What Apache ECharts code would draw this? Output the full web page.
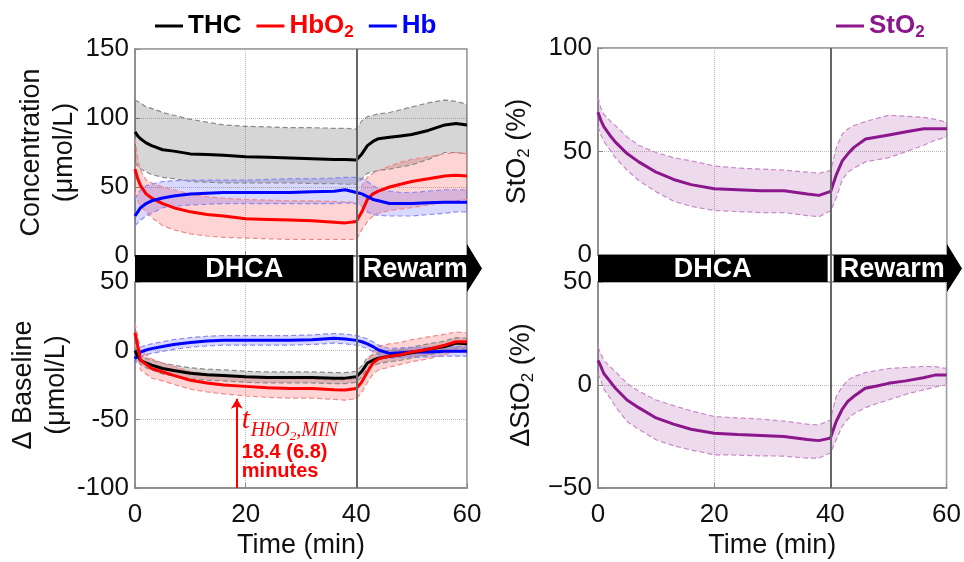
<!DOCTYPE html>
<html><head><meta charset="utf-8">
<script src="https://cdn.jsdelivr.net/npm/echarts@6/dist/echarts.min.js"></script>
<style>html,body{margin:0;padding:0;background:#fff}#c{width:964px;height:562px}</style>
</head><body><div id="c"></div>
<script>
// ---------- data ----------
const time = [0, 0.5, 1, 2, 3, 5, 7, 10, 13, 16, 20, 24, 28, 32, 36, 38, 40, 41, 42, 43, 44, 46, 48, 50, 53, 56, 58, 60];

const thcMean  = [90, 87, 85, 82, 80, 77, 76, 74, 73.5, 73, 72, 71.5, 71, 70.5, 70, 70, 69.5, 74, 80, 83, 85, 86, 87, 88, 91, 95, 96, 95];
const thcUpper = [113, 112, 111, 108, 107, 104, 102, 99, 97, 95, 94, 93.5, 93, 93, 92.5, 92.5, 92, 98, 101, 102, 103, 104, 106, 108, 111, 113, 112, 110];
const thcLower = [68, 65, 63, 61, 59, 57, 56, 54, 53.5, 53, 53, 53, 53, 52.5, 52.5, 52, 52, 56, 60, 61, 62, 63, 64.5, 66, 70, 75, 75, 74];
const hbo2Mean  = [63, 56, 51, 45, 42, 38, 35, 32, 30, 29, 27, 26.5, 26, 25.5, 24.5, 24, 25, 32, 41, 45, 47, 50, 52, 54, 56, 58, 58.5, 58];
const hbo2Upper = [85, 70, 62, 55, 53, 50, 48, 45, 43, 42, 41, 40.5, 40, 40, 39.5, 39, 39, 51, 57, 60, 62, 65, 68, 70, 72, 74, 75, 74];
const hbo2Lower = [46, 40, 36, 32, 28, 22, 19, 16, 14.5, 13.5, 13, 12.5, 12, 12, 12, 12, 12, 19, 25, 29, 31, 33, 34, 35, 37, 39, 40, 41];
const hbMean  = [29, 32, 35, 38, 40, 42, 43.5, 45, 45.5, 46, 46, 46, 46, 46.5, 47, 48, 46, 45, 43, 41, 40, 38, 38, 38, 38.5, 39, 39, 39];
const hbUpper = [41, 45, 48, 51, 52, 54, 54.5, 55, 55, 55, 55, 55.5, 56, 56, 56.5, 57, 57, 56, 54, 51, 49, 47, 46, 46, 47, 48, 48, 48];
const hbLower = [22, 24, 26, 29, 31, 35, 36, 37, 37.5, 38, 38, 38, 38, 38, 38, 38.5, 38, 36, 32, 30, 29.5, 29, 29, 29, 30, 31, 32, 32];

const dThcMean  = [0, -4, -7, -9, -10.5, -13, -14.5, -16.5, -17.5, -18, -19, -19.5, -19.5, -19.5, -20, -20, -19, -15, -9, -7, -5.5, -4, -3, -1.5, 1, 3, 5.5, 5];
const dThcUpper = [3, -1, -4, -5.5, -7, -9, -10.5, -12.5, -13.5, -14, -15, -15.5, -15.5, -15.5, -16, -16, -15, -11, -5, -3, -1.5, 0, 1, 2.5, 5, 7, 9.5, 9];
const dThcLower = [-3, -7, -10, -12.5, -14, -17, -18.5, -20.5, -21.5, -22, -23, -23.5, -23.5, -23.5, -24, -24, -23, -19, -13, -11, -9.5, -8, -7, -5.5, -3, -1, 1.5, 1];
const dHbo2Mean  = [13, 3, -7, -10, -13, -15.5, -18, -21.5, -23.5, -25, -26, -27, -27.5, -27.5, -28.5, -28.7, -27.5, -22.7, -15.5, -9, -6, -4, -3, -1, 1, 4, 6.5, 6.5];
const dHbo2Upper = [20, 10, 0, -3, -6, -9, -11.5, -15, -17, -18, -19, -20, -20.5, -20.5, -21.5, -21.5, -20.5, -15, -8, -1, 3, 5, 6, 8, 10, 12, 13.5, 13];
const dHbo2Lower = [5, -4, -14, -17, -20, -22, -24.5, -28, -30, -31.5, -33, -34, -34.5, -34.5, -35.5, -36, -35, -30, -23, -17, -14, -12, -10, -8, -6, -3, 0, 0];
const dHbMean  = [-6, -3, -1, 0.5, 1.5, 3, 4.5, 6, 7, 7.5, 7.5, 7.5, 7.5, 8, 9, 8.5, 7.5, 6.5, 5, 3, 0.5, -2, -1.5, -1, -1, -0.5, -0.5, -0.5];
const dHbUpper = [-2, 0.5, 2.5, 4, 5, 6.5, 8, 9.5, 10.5, 11, 11, 11, 11, 11.5, 12.5, 12, 11, 10, 8.5, 6.5, 4, 1.5, 2, 2.5, 2.5, 3, 3, 3];
const dHbLower = [-10, -6.5, -4.5, -3, -2, -0.5, 1, 2.5, 3.5, 4, 4, 4, 4, 4.5, 5.5, 5, 4, 3, 1.5, -0.5, -3, -5.5, -5, -4.5, -4.5, -4, -4, -4];

const sto2Mean  = [69, 65, 62, 58, 54.5, 49, 45, 40, 36.5, 34, 32, 31.5, 31, 31, 29.5, 28.8, 30.7, 39, 45.5, 49, 52, 56, 57, 58, 59.5, 61, 61, 61];
const sto2Upper = [76, 71, 68, 65, 62.5, 57, 53, 49.5, 47, 45.5, 43, 42, 41.5, 41, 40, 39.5, 40.8, 52, 58.5, 61, 62.5, 64.5, 66, 67.5, 67, 66.5, 65.5, 64];
const sto2Lower = [62, 58, 55, 51, 47, 41, 36, 30.5, 26, 23.5, 21.5, 21, 20.5, 20.5, 19, 18.5, 21.4, 27.8, 36.5, 40, 42, 45, 46, 47, 50, 53, 55.5, 57];
const dSto2Mean  = [12, 9, 5.6, 2, -1.6, -7.3, -11, -16, -19, -21.5, -23.4, -24, -24.5, -25, -26.5, -27, -25.8, -17.7, -12, -8, -5.6, -1.6, -0.5, 0.8, 2, 3.5, 4.8, 4.8];
const dSto2Upper = [18.5, 15, 12, 9, 6.5, 0.8, -3, -7.3, -10, -12.5, -15.3, -16, -16.5, -17.5, -19, -19.4, -17, -5.6, -1, 2.4, 4, 6, 7, 8, 8.5, 9, 8.9, 8];
const dSto2Lower = [5.6, 2, -2, -6, -10.5, -17.7, -21.5, -26.6, -29.5, -31.5, -33.9, -34, -34.4, -34.5, -35.5, -35.5, -33, -26.6, -20.2, -16.5, -14, -11, -9, -7.3, -4.5, -2.4, -1, 0];

const phaseNames = ['DHCA', 'Rewarm'];
const phaseStart = [0, 40];
const phaseEnd = [40, 60];
const phaseBoundary = 40;

const xTicks = [0, 20, 40, 60];
const yTicksConc = [0, 50, 100, 150];
const yTicksDelta = [-100, -50, 0, 50];
const yTicksSto2 = [0, 50, 100];
const yTicksDSto2 = [-50, 0, 50];

const tMinValue = 18.4;        // minutes
const tMinArrow = [-100, -35]; // arrow from/to (µmol/L)
const tMinLabelY = -70;
const tMinText = ['18.4 (6.8)', 'minutes'];

// ---------- helpers ----------
const FONT = '"Liberation Sans", Arial, Helvetica, sans-serif';
const pairs = v => time.map((t, i) => [t, v[i]]);

function band(id, gi, lo, hi, fill, edge) {
  const edgeCommon = {
    type: 'line', xAxisIndex: gi, yAxisIndex: gi, symbol: 'none', silent: true, z: 3, animation: false,
    lineStyle: { type: [5, 3], width: 1.2, color: edge }
  };
  const area = {
    type: 'custom', name: id + '_band', xAxisIndex: gi, yAxisIndex: gi, silent: true, z: 2, animation: false,
    data: time.map((t, i) => [t, lo[i], hi[i]]),
    encode: { x: 0, y: [1, 2] }, clip: true,
    renderItem: function (params, api) {
      if (params.dataIndex !== 0) return null;
      const pts = [];
      for (let j = 0; j < time.length; j++) pts.push(api.coord([time[j], hi[j]]));
      for (let j = time.length - 1; j >= 0; j--) pts.push(api.coord([time[j], lo[j]]));
      return { type: 'polygon', shape: { points: pts }, style: { fill: fill } };
    }
  };
  return [
    area,
    Object.assign({}, edgeCommon, { name: id + '_lo', data: pairs(lo) }),
    Object.assign({}, edgeCommon, { name: id + '_hi', data: pairs(hi) })
  ];
}
function mean(name, gi, v, color, extra) {
  return Object.assign({
    type: 'line', name, xAxisIndex: gi, yAxisIndex: gi, data: pairs(v),
    symbol: 'none', z: 4, animation: false, silent: true,
    itemStyle: { color }, lineStyle: { color, width: 3 }
  }, extra || {});
}
const vLine = {
  symbol: 'none', silent: true, animation: false, label: { show: false },
  lineStyle: { color: '#666', width: 2, type: 'solid' },
  data: [{ xAxis: phaseBoundary }]
};

function xAx(gi, labels) {
  return {
    type: 'value', gridIndex: gi, min: xTicks[0], max: xTicks[xTicks.length - 1], interval: xTicks[1] - xTicks[0],
    axisLine: { show: true, onZero: false, lineStyle: { color: '#888', width: 1.5 } },
    axisTick: { show: true, inside: true, length: 5, lineStyle: { color: '#888' } },
    axisLabel: { show: labels, fontSize: 26, color: '#111', margin: 14, fontFamily: FONT },
    splitLine: { show: true, lineStyle: { type: 'dotted', color: '#bbb' } },
    name: labels ? 'Time (min)' : '', nameLocation: 'middle', nameGap: 44,
    nameTextStyle: { fontSize: 27, color: '#111', fontFamily: FONT }
  };
}
function yAx(gi, ticks, name, gap, fmt) {
  return {
    type: 'value', gridIndex: gi, min: ticks[0], max: ticks[ticks.length - 1], interval: ticks[1] - ticks[0],
    axisLine: { show: true, onZero: false, lineStyle: { color: '#888', width: 1.5 } },
    axisTick: { show: true, inside: true, length: 5, lineStyle: { color: '#888' } },
    axisLabel: { fontSize: 26, color: '#111', margin: 6, fontFamily: FONT, formatter: fmt },
    splitLine: { show: true, lineStyle: { type: 'dotted', color: '#bbb' } },
    name, nameLocation: 'middle', nameRotate: 90, nameGap: gap,
    nameTextStyle: { fontSize: 27, color: '#111', fontFamily: FONT, lineHeight: 33,
      rich: { sub: { fontSize: 17, padding: [13, 0, 0, 0], fontFamily: FONT, color: '#111' } } }
  };
}
function hiddenAx(gi, min, max) {
  return { type: 'value', gridIndex: gi, min, max, show: false, splitLine: { show: false } };
}

function renderPhase(params, api) {
  const i = params.dataIndex;
  const isLast = i === phaseNames.length - 1;
  const p0 = api.coord([api.value(0), 1]);
  const p1 = api.coord([api.value(1), 0]);
  const gap = 3;
  const x0 = p0[0] + (i > 0 ? gap : 0);
  const x1 = p1[0] - (isLast ? 0 : gap);
  const top = p0[1], bot = p1[1], mid = (top + bot) / 2;
  let shape;
  if (isLast) {
    shape = { type: 'polygon', shape: { points: [[x0, top], [x1, top], [x1, top - 11], [x1 + 15, mid], [x1, bot + 10], [x1, bot], [x0, bot]] }, style: { fill: '#000' } };
  } else {
    shape = { type: 'rect', shape: { x: x0, y: top, width: x1 - x0, height: bot - top }, style: { fill: '#000' } };
  }
  return {
    type: 'group', children: [shape, {
      type: 'text', style: {
        text: phaseNames[i], x: (x0 + x1) / 2 + (isLast ? 2 : 0), y: mid + 1, align: 'center', verticalAlign: 'middle',
        fill: '#fff', fontSize: 27, fontWeight: 'bold', fontFamily: FONT
      }
    }]
  };
}
const phaseData = phaseNames.map((n, i) => [phaseStart[i], phaseEnd[i], 0, 1]);
function phaseSeries(gi) {
  return {
    type: 'custom', xAxisIndex: gi, yAxisIndex: gi, data: phaseData, renderItem: renderPhase,
    encode: { x: [0, 1], y: [2, 3] }, clip: false, z: 6, silent: true, animation: false,
    markLine: Object.assign({}, vLine, { z: 7 })
  };
}

const colors = { THC: '#000000', HbO2: '#ff0000', Hb: '#0000ff', StO2: '#8c168c' };

const series = [].concat(
  band('thc', 0, thcLower, thcUpper, 'rgba(0,0,0,0.16)', '#8a8a8a'),
  band('hbo2', 0, hbo2Lower, hbo2Upper, 'rgba(255,0,0,0.17)', '#f08a8a'),
  band('hb', 0, hbLower, hbUpper, 'rgba(0,0,255,0.15)', '#8a8af0'),
  [mean('THC', 0, thcMean, colors.THC, { markLine: vLine }),
   mean('HbO2', 0, hbo2Mean, colors.HbO2),
   mean('Hb', 0, hbMean, colors.Hb)],
  band('dthc', 1, dThcLower, dThcUpper, 'rgba(0,0,0,0.16)', '#8a8a8a'),
  band('dhbo2', 1, dHbo2Lower, dHbo2Upper, 'rgba(255,0,0,0.17)', '#f08a8a'),
  band('dhb', 1, dHbLower, dHbUpper, 'rgba(0,0,255,0.15)', '#8a8af0'),
  [mean('dHb', 1, dHbMean, colors.Hb, { markLine: vLine }),
   mean('dTHC', 1, dThcMean, colors.THC),
   mean('dHbO2', 1, dHbo2Mean, colors.HbO2, {
     markLine: {
       silent: true, animation: false, label: { show: false },
       lineStyle: { color: '#ff0000', width: 2, type: 'solid' },
       data: [[{ coord: [tMinValue, tMinArrow[0]], symbol: 'none' },
               { coord: [tMinValue, tMinArrow[1]], symbol: 'arrow', symbolSize: [9, 10] }]]
     },
     markPoint: {
       silent: true, animation: false, symbol: 'circle', symbolSize: 0,
       data: [{ coord: [tMinValue, tMinLabelY] }],
       label: {
         show: true, position: 'right', distance: 5, color: '#ff0000',
         formatter: '{ti|t}{si|HbO}{ssi|2}{si|,MIN}\n{b|' + tMinText[0] + '}\n{b|' + tMinText[1] + '}',
         rich: {
           ti: { fontFamily: '"Liberation Serif", serif', fontStyle: 'italic', fontSize: 29, color: '#ff0000', verticalAlign: 'bottom', padding: [0, 1, 8, 0], lineHeight: 30 },
           si: { fontFamily: '"Liberation Serif", serif', fontStyle: 'italic', fontSize: 20, color: '#ff0000', verticalAlign: 'bottom', padding: [0, 0, 2, 0] },
           ssi: { fontFamily: '"Liberation Serif", serif', fontStyle: 'italic', fontSize: 13, color: '#ff0000', verticalAlign: 'bottom', padding: [0, 0, 0, 0] },
           b: { fontFamily: FONT, fontWeight: 'bold', fontSize: 20, lineHeight: 19, color: '#ff0000' }
         }
       }
     }
   })],
  band('sto2', 2, sto2Lower, sto2Upper, 'rgba(128,0,128,0.14)', '#c888c8'),
  [mean('StO2', 2, sto2Mean, colors.StO2, { markLine: vLine })],
  band('dsto2', 3, dSto2Lower, dSto2Upper, 'rgba(128,0,128,0.14)', '#c888c8'),
  [mean('dStO2', 3, dSto2Mean, colors.StO2, { markLine: vLine })],
  [phaseSeries(4), phaseSeries(5)]
);

const legendBase = {
  icon: 'rect', itemWidth: 28, itemHeight: 3, itemGap: 15, selectedMode: false, top: 8,
  formatter: n => (n === 'HbO2' ? 'HbO{sub|2}' : n === 'StO2' ? 'StO{sub|2}' : n),
  textStyle: { fontFamily: FONT, fontWeight: 'bold', fontSize: 26 }
};
function legItem(n) {
  const c = colors[n];
  return { name: n, textStyle: { color: c, fontWeight: 'bold', fontSize: 26, fontFamily: FONT,
    rich: { sub: { color: c, fontWeight: 'bold', fontSize: 17, fontFamily: FONT, padding: [13, 0, 0, 0] } } } };
}

const option = {
  backgroundColor: '#fff',
  animation: false,
  legend: [
    Object.assign({}, legendBase, { left: 150, data: ['THC', 'HbO2', 'Hb'].map(legItem) }),
    Object.assign({}, legendBase, { left: 831, data: ['StO2'].map(legItem) })
  ],
  grid: [
    { left: 135, top: 49, width: 332, height: 207, show: true, borderColor: '#888', borderWidth: 1.5 },
    { left: 135, top: 282, width: 332, height: 206, show: true, borderColor: '#888', borderWidth: 1.5 },
    { left: 598, top: 48, width: 349, height: 207, show: true, borderColor: '#888', borderWidth: 1.5 },
    { left: 598, top: 282, width: 349, height: 206, show: true, borderColor: '#888', borderWidth: 1.5 },
    { left: 135, top: 255, width: 332, height: 27 },
    { left: 598, top: 255, width: 349, height: 27 }
  ],
  xAxis: [xAx(0, false), xAx(1, true), xAx(2, false), xAx(3, true),
    hiddenAx(4, 0, 60), hiddenAx(5, 0, 60)],
  yAxis: [
    yAx(0, yTicksConc, 'Concentration\n(μmol/L)', 54),
    yAx(1, yTicksDelta, 'Δ Baseline\n(μmol/L)', 54),
    yAx(2, yTicksSto2, 'StO{sub|2} (%)', 64),
    yAx(3, yTicksDSto2, 'ΔStO{sub|2} (%)', 60, v => (v < 0 ? '\u2212' + Math.abs(v) : String(v))),
    hiddenAx(4, 0, 1), hiddenAx(5, 0, 1)
  ],
  series
};
const chart = echarts.init(document.getElementById('c'), null, { renderer: 'canvas' });
chart.setOption(option);
</script></body></html>
